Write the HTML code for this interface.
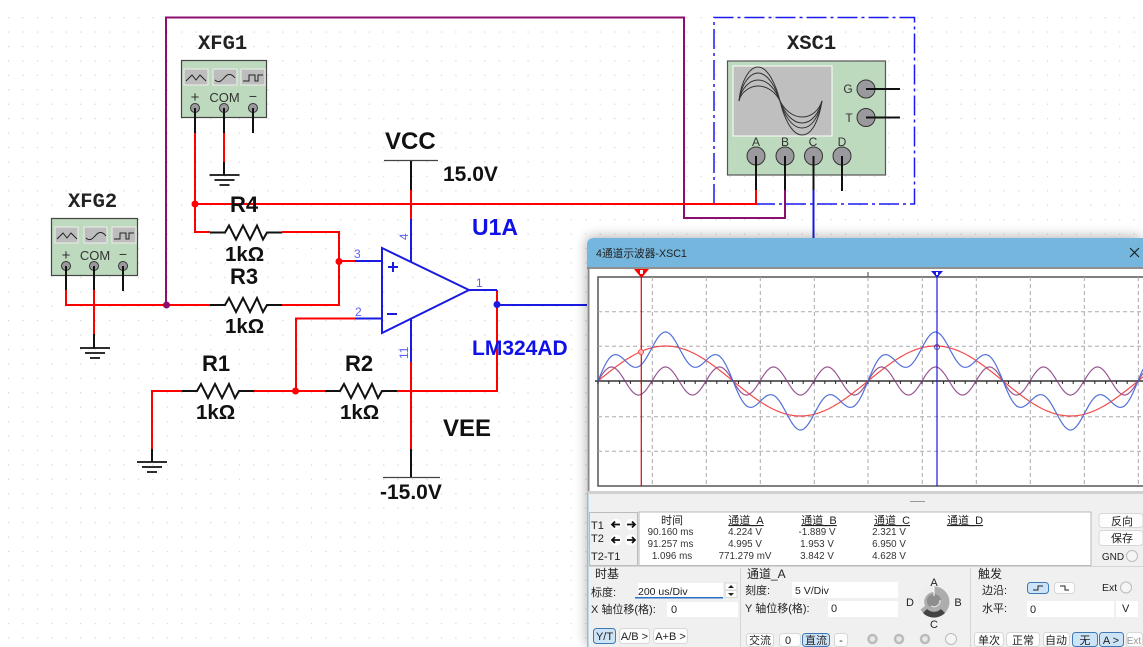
<!DOCTYPE html>
<html><head><meta charset="utf-8"><style>
html,body{margin:0;padding:0;background:#fff;width:1143px;height:647px;overflow:hidden}
svg{display:block}
text{font-family:"Liberation Sans","Noto Sans CJK SC",sans-serif}
.b{font-weight:bold;fill:#111}
.m{font-family:"Liberation Mono",monospace;font-weight:bold;font-size:20.5px;fill:#222}
.u{font-weight:bold;fill:#1010e8}
.p{font-size:12px;fill:#6060f0}
.t{font-size:9.8px;fill:#333;text-anchor:middle}
.h{font-size:11px;fill:#222;text-anchor:middle;text-decoration:underline}
.l{font-size:11px;fill:#222}
.c{font-size:11px;fill:#222;text-anchor:middle}
.bt{fill:#fdfdfd;stroke:#d8d8d8}
.ba{fill:#cde4f7;stroke:#3d7ab5}
.in{fill:#fff}
.r{stroke:#ff0000;stroke-width:2;fill:none}
.k{stroke:#111;stroke-width:2;fill:none}
.n{stroke:#1a1ae0;stroke-width:2;fill:none}
.v{stroke:#8b0f6f;stroke-width:2;fill:none}
.pin{fill:#9a9a9e;stroke:#333;stroke-width:1}
.gd{stroke:#aaa;stroke-width:1;stroke-dasharray:4 3;fill:none}
</style></head><body>
<svg xmlns="http://www.w3.org/2000/svg" width="1143" height="647" viewBox="0 0 1143 647">
<defs>
<pattern id="dots" x="8" y="17" width="14.43" height="14.43" patternUnits="userSpaceOnUse"><rect width="1.2" height="1.2" fill="#d4d4d4"/></pattern>
<filter id="blur" x="-10%" y="-10%" width="120%" height="120%"><feGaussianBlur stdDeviation="6"/></filter>
<clipPath id="cl"><rect x="598" y="277" width="545" height="209"/></clipPath>
<clipPath id="pg"><rect width="1143" height="647"/></clipPath>
<g id="res"><path d="M0 0H15L19 -7L26 7L33 -7L40 7L47 -7L53 7L57 0H72" fill="none" stroke="#111" stroke-width="2"/></g>
<g id="gnd"><path d="M-15 0H15M-10 5H10M-5 10H5" stroke="#111" stroke-width="1.8" fill="none"/></g>
</defs>
<rect width="1143" height="647" fill="#fff"/>
<rect y="10" width="1143" height="637" fill="url(#dots)"/>

<!-- XFG1 -->
<rect x="181.500" y="60.500" width="85" height="57" fill="#bedabe" stroke="#444" stroke-width="1.2"/>
<g fill="#bdbdbd" stroke="#eee"><rect x="184" y="69" width="24" height="16"/><rect x="213" y="69" width="24" height="16"/><rect x="241" y="69" width="24" height="16"/></g>
<g fill="none" stroke="#222" stroke-width="1"><path d="M186 81L192 75L196 80L200 75L206 81"/><path d="M215 80C219 84 222 80 225 77C228 73 232 74 235 78"/><path d="M243 81H249V75H255V81H258V75H263"/></g>
<text x="195" y="102" font-size="15" text-anchor="middle" fill="#333">+</text>
<text x="224.500" y="102" font-size="13" text-anchor="middle" fill="#333">COM</text>
<text x="253" y="101" font-size="14" text-anchor="middle" fill="#333">−</text>
<text class="m" x="198" y="49">XFG1</text>

<!-- XFG2 -->
<rect x="51.500" y="218.500" width="86" height="57" fill="#bedabe" stroke="#444" stroke-width="1.2"/>
<g fill="#bdbdbd" stroke="#eee"><rect x="55" y="227" width="23" height="16"/><rect x="84" y="227" width="23" height="16"/><rect x="112" y="227" width="24" height="16"/></g>
<g fill="none" stroke="#222" stroke-width="1"><path d="M57 239L63 233L67 238L71 233L77 239"/><path d="M86 238C90 242 93 238 96 235C99 231 103 232 106 236"/><path d="M114 239H120V233H126V239H129V233H134"/></g>
<text x="66" y="260" font-size="15" text-anchor="middle" fill="#333">+</text>
<text x="95" y="260" font-size="13" text-anchor="middle" fill="#333">COM</text>
<text x="123" y="259" font-size="14" text-anchor="middle" fill="#333">−</text>
<text class="m" x="68" y="207">XFG2</text>

<!-- XSC1 -->
<path d="M714 204V17.500H914.500V204H714" fill="none" stroke="#1a1af0" stroke-width="1.500" stroke-dasharray="20 4 3 4"/>
<rect x="727.500" y="61" width="158" height="114" fill="#bedabe" stroke="#555" stroke-width="1.2"/>
<rect x="733" y="66" width="99" height="70" fill="#bfbfbf" stroke="#fff" stroke-width="1"/>
<g fill="none" stroke="#333" stroke-width="1">
<path d="M739 101C741 80 750 67 758 67C768 67 776 85 780 101C784 118 792 135 802 135C812 135 819 120 822 101"/>
<path d="M739 101C741 84 750 73 758 73C768 73 776 88 780 101C784 115 792 128 802 128C812 128 819 116 822 101"/>
<path d="M739 101C741 88 750 80 758 80C768 80 776 90 780 101C784 112 792 123 802 123C812 123 819 113 822 101"/>
<path d="M739 101C741 92 750 86 758 86C768 86 776 93 780 101C784 109 792 117 802 117C812 117 819 110 822 101"/>
</g>
<text class="m" x="787" y="49">XSC1</text>
<g font-size="12" fill="#333" text-anchor="middle"><text x="756" y="146">A</text><text x="785" y="146">B</text><text x="813" y="146">C</text><text x="842" y="146">D</text><text x="848" y="93">G</text><text x="849" y="122">T</text></g>
<g class="pin"><circle cx="756" cy="156" r="9"/><circle cx="785" cy="156" r="9"/><circle cx="813.500" cy="156" r="9"/><circle cx="842" cy="156" r="9"/><circle cx="866" cy="89" r="9"/><circle cx="866" cy="117.500" r="9"/></g>
<path class="k" d="M756 156V190M785 156V190M813.500 156V190M842 156V191M866 89H900M866 117.500H900"/>

<!-- wires -->
<path class="v" d="M166 305V17.500H684V218H785V190"/>
<path class="n" d="M813.500 190V240"/>
<path class="r" d="M195 133V232H210M195 204H756V190M224 133V162M282 232H339V305H282M66 290V305H210M94 290V334M339 261H355M296 391V318.500H355M152 449V391H182M254 391H325M397 391H497V290M411 190V219M411 362V449"/>
<path class="k" d="M224 162V175M94 334V348M152 449V462M411 449V477M411 160V190"/>
<use href="#gnd" x="224.500" y="175"/><use href="#gnd" x="95" y="348"/><use href="#gnd" x="152" y="462"/>
<g class="pin"><circle cx="195" cy="108" r="4.500"/><circle cx="224" cy="108" r="4.500"/><circle cx="253" cy="108" r="4.500"/><circle cx="66" cy="266" r="4.500"/><circle cx="94" cy="266" r="4.500"/><circle cx="123" cy="266" r="4.500"/></g>
<path class="k" d="M195 108V133M224 108V133M253 108V133M66 266V290M94 266V290M123 266V291"/>
<use href="#res" x="210" y="232.500"/><use href="#res" x="210" y="305"/><use href="#res" x="182" y="391"/><use href="#res" x="325" y="391"/>
<path d="M384 160.500H438M383 477.500H440" stroke="#444" stroke-width="1.2"/>
<!-- opamp -->
<path class="n" d="M382 248L469 290L382 333Z"/>
<path class="n" d="M355 261H382M355 318.500H382M469 290H497M411 219V262M411 319V362M497 305H587"/>
<path d="M388 267H398M393 262V272M387 314H397" stroke="#1a1ae0" stroke-width="2" fill="none"/>
<circle cx="195" cy="204" r="3.500" fill="#f00"/><circle cx="339" cy="261.500" r="3.500" fill="#f00"/><circle cx="295.500" cy="391" r="3.500" fill="#f00"/><circle cx="166.500" cy="305" r="3.500" fill="#8b0f6f"/><circle cx="497" cy="304.500" r="3.500" fill="#1a1ae0"/>
<text class="p" x="354" y="258">3</text><text class="p" x="355" y="316">2</text><text class="p" x="476" y="287">1</text>
<text class="p" transform="translate(408,240) rotate(-90)">4</text><text class="p" transform="translate(408,359) rotate(-90)">11</text>

<text class="b" x="230" y="212" font-size="22">R4</text><text class="b" x="225" y="261" font-size="20.500">1kΩ</text>
<text class="b" x="230" y="284" font-size="22">R3</text><text class="b" x="225" y="333" font-size="20.500">1kΩ</text>
<text class="b" x="202" y="371" font-size="22">R1</text><text class="b" x="196" y="419" font-size="20.500">1kΩ</text>
<text class="b" x="345" y="371" font-size="22">R2</text><text class="b" x="340" y="419" font-size="20.500">1kΩ</text>
<text class="b" x="385" y="149" font-size="24">VCC</text><text class="b" x="443" y="181" font-size="21">15.0V</text>
<text class="b" x="443" y="436" font-size="24">VEE</text><text class="b" x="380" y="499" font-size="21">-15.0V</text>
<text class="u" x="472" y="235" font-size="23">U1A</text><text class="u" x="472" y="355" font-size="21">LM324AD</text>

<!-- window shadow -->
<g clip-path="url(#pg)"><rect x="586" y="236" width="557" height="411" rx="7" fill="#000" opacity=".28" filter="url(#blur)"/></g>
<!-- window -->
<path d="M587 647V245Q587 238 594 238H1143V647Z" fill="#f0f0f0"/>
<path d="M587 267V245Q587 238 594 238H1143V267Z" fill="#74b6dd"/>
<rect x="587" y="267" width="556" height="2" fill="#909090"/>
<rect x="587.500" y="267" width="2" height="226" fill="#8a8a8a"/>
<rect x="587" y="493" width="1.500" height="154" fill="#8cc0e0"/>
<text x="596" y="257" font-size="10.700" fill="#222">4通道示波器-XSC1</text>
<path d="M1130 248L1139 257M1139 248L1130 257" stroke="#222" stroke-width="1.200"/>
<rect x="589.500" y="269" width="553.500" height="222" fill="#fff"/>
<path d="M1143 277H598V486H1143" fill="none" stroke="#555" stroke-width="1.500"/>
<g class="gd"><path d="M652.300 277V486M706.300 277V486M760.300 277V486M814.300 277V486M868 277V486M922.300 277V486M976.300 277V486M1030.300 277V486M1084.300 277V486M1138.300 277V486"/><path d="M598 311.700H1143M598 346.300H1143M598 416.700H1143M598 451.300H1143"/></g>
<path d="M868 272V277" stroke="#444"/>
<path d="M595 381H1143" stroke="#666" stroke-width="2"/>
<path id="ticks" d="" stroke="#222" stroke-width="1" fill="none"/>
<g clip-path="url(#cl)" fill="none" stroke-width="1.200" opacity=".85">
<path id="wr" stroke="#f22c2c"/><path id="wp" stroke="#86387e"/><path id="wb" stroke="#3558cf"/>
</g>
<path d="M641.300 277V486" stroke="#e00000" stroke-width="1.200"/>
<path d="M937 277V486" stroke="#1a1ae0" stroke-width="1.200"/>
<path d="M634 269H649L641.500 278Z" fill="#f00"/><path d="M640 270H643V274H640Z" fill="#fff"/>
<path d="M931 271H943L937 278Z" fill="#1a1ae0"/><path d="M936 272H938V275H936Z" fill="#fff"/>
<circle cx="641" cy="352" r="2.500" fill="#fbb" stroke="#f44"/><circle cx="937" cy="347" r="2.500" fill="none" stroke="#44a"/>

<!-- panel -->
<rect x="588" y="491" width="555" height="3" fill="#d0d0d0"/>
<path d="M910 501.500H925" stroke="#999"/>
<rect x="589.500" y="512.500" width="48" height="53" fill="none" stroke="#bbb"/>
<rect x="639" y="512" width="452" height="53.500" fill="#fff" stroke="#aaa" stroke-width=".8"/>
<text class="l" x="591" y="529" font-size="10.500">T1</text><text class="l" x="591" y="542" font-size="10.500">T2</text><text class="l" x="591" y="560" font-size="10.500">T2-T1</text>
<g fill="#fff"><circle cx="616" cy="524.500" r="5.500"/><circle cx="631" cy="524.500" r="5.500"/><circle cx="616" cy="540" r="5.500"/><circle cx="631" cy="540" r="5.500"/></g>
<g stroke="#111" stroke-width="1.800" fill="none"><path d="M612 524.500H620M615 521.500L612 524.500L615 527.500M627 524.500H635M632 521.500L635 524.500L632 527.500M612 540H620M615 537L612 540L615 543M627 540H635M632 537L635 540L632 543"/></g>
<text class="h" x="672" y="524" style="text-decoration:none">时间</text><text class="h" x="746" y="524">通道_A</text><text class="h" x="819" y="524">通道_B</text><text class="h" x="892" y="524">通道_C</text><text class="h" x="965" y="524">通道_D</text>
<text class="t" x="670.500" y="535">90.160 ms</text><text class="t" x="670.500" y="547">91.257 ms</text><text class="t" x="672" y="559">1.096 ms</text>
<text class="t" x="745" y="535">4.224 V</text><text class="t" x="745" y="547">4.995 V</text><text class="t" x="745" y="559">771.279 mV</text>
<text class="t" x="817" y="535">-1.889 V</text><text class="t" x="817" y="547">1.953 V</text><text class="t" x="817" y="559">3.842 V</text>
<text class="t" x="889" y="535">2.321 V</text><text class="t" x="889" y="547">6.950 V</text><text class="t" x="889" y="559">4.628 V</text>
<rect class="bt" x="1099" y="513.500" width="44" height="14" rx="3"/><text class="c" x="1122" y="525" font-size="12">反向</text>
<rect class="bt" x="1099" y="530.500" width="44" height="15" rx="3"/><text class="c" x="1122" y="542" font-size="12">保存</text>
<text class="c" x="1113" y="560" style="font-size:10px">GND</text><circle cx="1132" cy="556" r="5.500" fill="#f5f5f5" stroke="#bbb"/>
<path d="M588 566.500H1143M740.500 568V647M970.500 568V647" stroke="#d5d5d5"/>
<text class="l" x="595" y="578" style="font-size:12px">时基</text>
<text class="l" x="591" y="596">标度:</text>
<rect class="in" x="638" y="583" width="85" height="14"/><rect x="635" y="597" width="88" height="1.500" fill="#2a6fc0"/>
<text class="l" x="638" y="595" style="font-size:10.500px">200 us/Div</text>
<rect class="bt" x="725" y="583" width="12" height="7"/><rect class="bt" x="725" y="590.500" width="12" height="7"/><path d="M728 588L731 585L734 588Z" fill="#222"/><path d="M728 593L731 596L734 593Z" fill="#222"/>
<text class="l" x="591" y="613">X 轴位移(格):</text>
<rect class="in" x="667" y="602" width="71" height="15"/><text class="l" x="671" y="613">0</text>
<rect class="ba" x="593.500" y="628.500" width="22" height="15" rx="3"/><text class="c" x="604.500" y="640">Y/T</text>
<rect class="bt" x="619.500" y="628.500" width="30" height="15" rx="3"/><text class="c" x="634.500" y="640">A/B &gt;</text>
<rect class="bt" x="653.500" y="628.500" width="34" height="15" rx="3"/><text class="c" x="670.500" y="640">A+B &gt;</text>
<text class="l" x="747" y="578" style="font-size:12px">通道_A</text>
<text class="l" x="745" y="594">刻度:</text>
<rect class="in" x="792" y="582" width="106" height="16"/><text class="l" x="795" y="594" style="font-size:10.500px">5  V/Div</text>
<text class="l" x="745" y="612">Y 轴位移(格):</text>
<rect class="in" x="828" y="601" width="70" height="16"/><text class="l" x="831" y="612">0</text>
<rect class="bt" x="746.500" y="633.500" width="27" height="13" rx="3"/><text class="c" x="760" y="644">交流</text>
<rect class="bt" x="779.500" y="633.500" width="21" height="13" rx="3"/><text class="c" x="788" y="644">0</text>
<rect class="ba" x="802.500" y="633.500" width="27" height="13" rx="3"/><text class="c" x="816" y="644">直流</text>
<rect class="bt" x="834.500" y="633.500" width="13" height="13" rx="3"/><text class="c" x="841" y="644">-</text>
<g fill="#e8e8e8" stroke="#bbb" stroke-width="2.500"><circle cx="872.500" cy="639" r="4"/><circle cx="899" cy="639" r="4"/><circle cx="925" cy="639" r="4"/></g>
<circle cx="951" cy="639" r="5.500" fill="#f5f5f5" stroke="#bbb"/>
<!-- knob -->
<circle cx="934" cy="602" r="15.500" fill="#adadad"/>
<path d="M920 610A15.500 15.500 0 0 1 934 586.500L934 592A10 10 0 0 0 925 606Z" fill="#eee"/>
<path d="M923 613A15.500 15.500 0 0 0 945 613L941 609A10 10 0 0 1 927 609Z" fill="#444"/>
<circle cx="934" cy="601" r="7" fill="#8e8e8e"/><path d="M931 606A6 6 0 0 0 940 600" stroke="#ddd" stroke-width="1.500" fill="none"/>
<path d="M934 587V596" stroke="#fff"/>
<text class="c" x="934" y="586">A</text><text class="c" x="910" y="606">D</text><text class="c" x="958" y="606">B</text><text class="c" x="934" y="628">C</text>
<text class="l" x="978" y="578" style="font-size:12px">触发</text>
<text class="l" x="982" y="594">边沿:</text>
<rect class="ba" x="1027.500" y="582.500" width="21" height="11" rx="3"/><path d="M1033 590H1038V586H1043" fill="none" stroke="#222"/>
<rect class="bt" x="1054.500" y="582.500" width="20" height="11" rx="3"/><path d="M1060 586H1065V590H1069" fill="none" stroke="#222"/>
<text class="l" x="1102" y="591" style="font-size:10.500px">Ext</text><circle cx="1126" cy="587.500" r="5.500" fill="#f5f5f5" stroke="#bbb"/>
<text class="l" x="982" y="612">水平:</text>
<rect class="in" x="1027" y="601" width="87" height="16"/><text class="l" x="1030" y="613">0</text>
<rect class="in" x="1116" y="601" width="22" height="16"/><text class="l" x="1122" y="612">V</text>
<rect class="bt" x="974.500" y="632.500" width="29" height="14" rx="3"/><text class="c" x="989" y="644">单次</text>
<rect class="bt" x="1006.500" y="632.500" width="33" height="14" rx="3"/><text class="c" x="1023" y="644">正常</text>
<rect class="bt" x="1043.500" y="632.500" width="26" height="14" rx="3"/><text class="c" x="1056" y="644">自动</text>
<rect class="ba" x="1072.500" y="632.500" width="25" height="14" rx="3"/><text class="c" x="1085" y="644">无</text>
<rect class="ba" x="1099.500" y="632.500" width="24" height="14" rx="3"/><text class="c" x="1111" y="644">A &gt;</text>
<rect class="bt" x="1126.500" y="632.500" width="16" height="14" rx="3"/><text class="c" x="1134" y="644" style="fill:#999;font-size:10px">Ext</text>
</svg>
<script>
(function(){
var x0=598,P=270,r='',p='',b='',f=function(v){return v.toFixed(1)};
for(var x=x0;x<=1143;x+=1){
 var t=2*Math.PI*(x-x0)/P,R=35*Math.sin(t),U=14*Math.sin(5*t);
 var c=(x==x0?'M':'L')+f(x)+' ';
 r+=c+f(381-R);p+=c+f(381-U);b+=c+f(381-R-U);
}
document.getElementById('wr').setAttribute('d',r);
document.getElementById('wp').setAttribute('d',p);
document.getElementById('wb').setAttribute('d',b);
var k='';for(var i=0;i<50;i++){var X=x0+i*10.8;k+='M'+f(X)+' 381V384';}
document.getElementById('ticks').setAttribute('d',k);
})();
</script>
</body></html>
